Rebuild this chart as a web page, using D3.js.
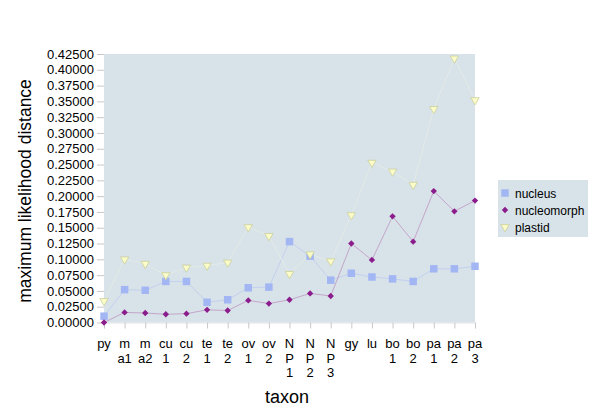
<!DOCTYPE html>
<meta charset="utf-8">
<style>
body { margin: 0; background: #fff; }
text { font-family: "Liberation Sans", Arial, sans-serif; fill: #000; }
.tick line { stroke: #c8c8c8; }
</style>
<svg width="600" height="417"></svg>
<script src="https://d3js.org/d3.v7.min.js"></script>
<script>

var categories = ["py","ma1","ma2","cu1","cu2","te1","te2","ov1","ov2","NP1","NP2","NP3","gy","lu","bo1","bo2","pa1","pa2","pa3"];
var tickLines = [["py"],["m","a1"],["m","a2"],["cu","1"],["cu","2"],["te","1"],["te","2"],["ov","1"],["ov","2"],
  ["N","P","1"],["N","P","2"],["N","P","3"],["gy"],["lu"],["bo","1"],["bo","2"],["pa","1"],["pa","2"],["pa","3"]];

var nucleus =     [0.010,0.052,0.051,0.065,0.065,0.032,0.036,0.055,0.056,0.128,0.105,0.067,0.078,0.072,0.069,0.065,0.085,0.085,0.089];
var nucleomorph = [0.000,0.016,0.015,0.013,0.014,0.020,0.019,0.035,0.030,0.036,0.046,0.042,0.125,0.099,0.168,0.128,0.208,0.176,0.193];
var plastid =     [0.034,0.100,0.093,0.075,0.087,0.090,0.095,0.151,0.137,0.077,0.108,0.097,0.170,0.253,0.239,0.218,0.338,0.418,0.352];

var yTicks = d3.range(0, 0.42501, 0.025);

var svg = d3.select("svg");
var plotLeft = 104, plotRight = 475, plotTop = 54, plotBottom = 322.5;

var x = d3.scalePoint().domain(categories).range([plotLeft, plotRight]);
var y = d3.scaleLinear().domain([0, 0.425]).range([plotBottom, plotTop]);

svg.append("rect")
    .attr("x", plotLeft).attr("y", plotTop)
    .attr("width", plotRight - plotLeft).attr("height", plotBottom - plotTop)
    .attr("fill", "#d8e2e9");

// y axis
var yAxis = svg.append("g")
    .attr("transform", "translate(" + plotLeft + ",0)")
    .call(d3.axisLeft(y).tickValues(yTicks).tickFormat(d3.format(".5f")).tickSize(7).tickPadding(3));
yAxis.select(".domain").remove();
yAxis.selectAll("text").style("font-size", "13px");

// x axis
var xAxis = svg.append("g")
    .attr("transform", "translate(0," + plotBottom + ")")
    .call(d3.axisBottom(x).tickSize(6).tickFormat(""));
xAxis.select(".domain").attr("stroke", "#dde3e8");

svg.append("g").selectAll("text")
    .data(categories)
  .enter().append("text")
    .attr("x", function(d) { return x(d); })
    .attr("y", 348)
    .attr("text-anchor", "middle")
    .style("font-size", "13px")
    .each(function(d, i) {
      var t = d3.select(this);
      tickLines[i].forEach(function(s, j) {
        t.append("tspan").attr("x", x(d)).attr("dy", j ? 14.5 : 0).text(s);
      });
    });

svg.append("text")
    .attr("x", 287).attr("y", 403)
    .attr("text-anchor", "middle")
    .style("font-size", "18px")
    .text("taxon");

svg.append("text")
    .attr("transform", "translate(31,191) rotate(-90)")
    .attr("text-anchor", "middle")
    .style("font-size", "17.5px")
    .text("maximum likelihood distance");

var series = [
  {name: "nucleus", values: nucleus, line: "#c3d0ef", shape: d3.symbolSquare, size: 56, rot: 0, fill: "#a2b6f3", stroke: "none"},
  {name: "nucleomorph", values: nucleomorph, line: "#c4a6c9", shape: d3.symbolSquare, size: 20, rot: 45, fill: "#8b1c8c", stroke: "none"},
  {name: "plastid", values: plastid, line: "#e4ebe6", shape: d3.symbolTriangle, size: 30, rot: 180, fill: "#fcfcc8", stroke: "#c9cf9c"}
];

var line = d3.line()
    .x(function(d, i) { return x(categories[i]); })
    .y(function(d) { return y(d); });

series.forEach(function(s) {
  svg.append("path")
      .datum(s.values)
      .attr("fill", "none")
      .attr("stroke", s.line)
      .attr("stroke-width", 1)
      .attr("d", line);
});

series.forEach(function(s) {
  svg.append("g").selectAll("path")
      .data(s.values)
    .enter().append("path")
      .attr("d", d3.symbol().type(s.shape).size(s.size))
      .attr("transform", function(d, i) {
        return "translate(" + x(categories[i]) + "," + y(d) + ") rotate(" + s.rot + ")";
      })
      .attr("fill", s.fill)
      .attr("stroke", s.stroke)
      .attr("stroke-width", 0.8);
});

// legend
var legend = svg.append("g").attr("transform", "translate(498,180)");
legend.append("rect")
    .attr("width", 90).attr("height", 57)
    .attr("fill", "#d8e2e9");

series.forEach(function(s, i) {
  var g = legend.append("g").attr("transform", "translate(0," + (13 + i * 17) + ")");
  g.append("path")
      .attr("d", d3.symbol().type(s.shape).size(s.size))
      .attr("transform", "translate(7,0) rotate(" + s.rot + ")")
      .attr("fill", s.fill)
      .attr("stroke", s.stroke)
      .attr("stroke-width", 0.8);
  g.append("text")
      .attr("x", 17).attr("y", 4.5)
      .style("font-size", "12px")
      .text(s.name);
});

</script>
